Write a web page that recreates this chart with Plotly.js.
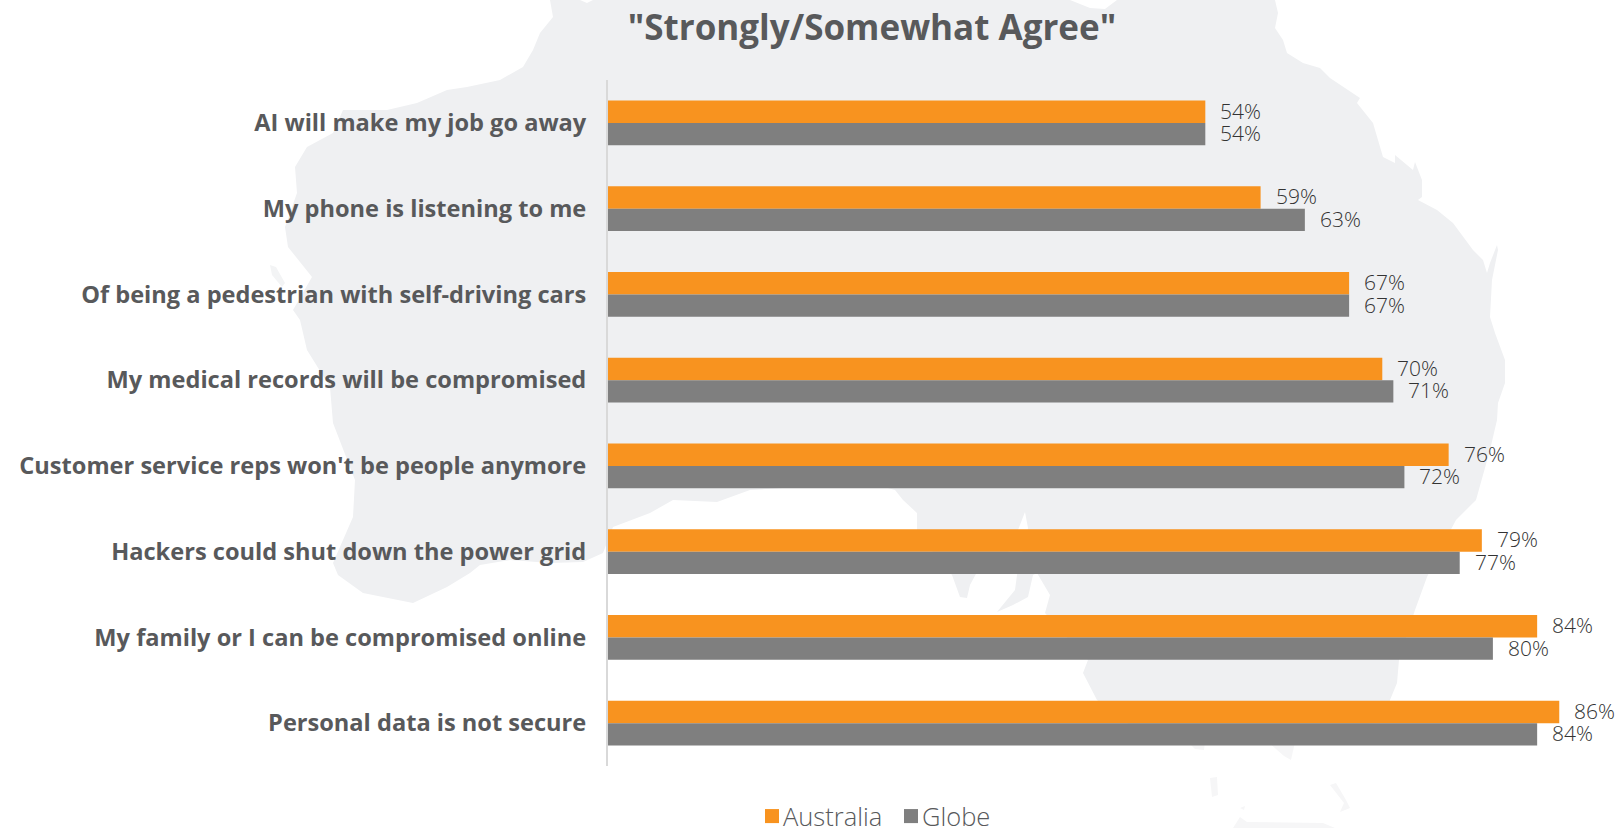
<!DOCTYPE html>
<html>
<head>
<meta charset="utf-8">
<script src="https://cdn.plot.ly/plotly-3.0.1.min.js"></script>
<style>html,body{margin:0;padding:0;background:#fff}#chart{width:1619px;height:828px}</style>
</head>
<body>
<div id="chart"></div>
<script>
const categories = [
  "AI will make my job go away",
  "My phone is listening to me",
  "Of being a pedestrian with self-driving cars",
  "My medical records will be compromised",
  "Customer service reps won't be people anymore",
  "Hackers could shut down the power grid",
  "My family or I can be compromised online",
  "Personal data is not secure"
];
const australia = [54, 59, 67, 70, 76, 79, 84, 86];
const globe = [54, 63, 67, 71, 72, 77, 80, 84];

// Australian mainland outline and islands, in page pixels, for the backdrop.
const mainland = [
  [550,0],[580,0],[587,3],[593,0],[1070,0],[1090,8],[1105,9],[1117,0],[1275,0],
  [1278,13],[1275,28],[1283,40],[1287,53],[1303,63],[1320,68],[1330,78],[1345,88],[1360,98],[1357,103],
  [1373,123],[1383,157],[1395,163],[1395,155],[1413,170],[1415,162],[1422,180],[1422,197],[1418,200],
  [1437,210],[1453,223],[1473,250],[1483,260],[1487,273],[1490,263],[1497,245],[1498,250],[1492,280],
  [1490,317],[1495,333],[1505,360],[1505,383],[1498,403],[1497,420],[1490,450],[1476,500],[1456,520],
  [1440,550],[1427,577],[1415,610],[1399,660],[1397,683],[1390,700],[1385,722],[1310,730],[1240,732],
  [1190,730],[1130,725],[1097,700],[1083,673],[1088,660],
  [1060,630],[1045,613],[1050,595],[1037,573],[1033,575],[1028,597],[1013,605],[997,612],[1015,590],
  [1017,575],[1028,528],[1025,512],[1018,530],[1005,560],[977,572],[970,585],[967,598],[960,597],
  [952,575],[935,555],[917,530],[917,513],[903,500],[895,490],[860,480],[800,487],[750,490],[717,502],
  [673,500],[650,513],[613,527],[603,553],[583,562],[550,563],[510,560],[480,565],[470,573],[447,587],
  [413,603],[363,593],[338,575],[333,563],[353,517],[355,480],[333,423],[330,387],[307,350],[300,320],
  [293,310],[312,277],[288,247],[285,227],[297,193],[295,167],[307,147],[333,133],[343,110],[387,110],
  [417,103],[447,90],[467,87],[500,80],[523,67],[533,50],[540,33],[553,17]
];
const westIsland = [[270,265],[276,267],[285,283],[282,287],[272,275]];
// The southern tip and islands fade out towards the foot of the page.
const southernBits = [
  [[1188,742],[1205,742],[1204,750],[1195,749]],
  [[1268,742],[1295,742],[1291,760],[1284,756]],
  [[1210,778],[1217,777],[1218,795],[1212,797]],
  [[1330,785],[1336,783],[1346,800],[1350,808],[1340,812],[1344,803]],
  [[1233,828],[1240,817],[1247,822],[1323,823],[1335,828]],
  [[1240,808],[1245,806],[1244,810]]
];

const W = 1619, H = 828;
const margin = {l: 608, r: 0, t: 80, b: 62};

function toPath(points) {
  const plotW = W - margin.l - margin.r, plotH = H - margin.t - margin.b;
  return points.map((p, i) => {
    const x = ((p[0] - margin.l) / plotW).toFixed(5);
    const y = ((H - margin.b - p[1]) / plotH).toFixed(5);
    return (i ? 'L' : 'M') + x + ',' + y;
  }).join(' ') + ' Z';
}

function landShape(points, fill) {
  return {
    type: 'path', xref: 'paper', yref: 'paper', layer: 'below',
    path: toPath(points), fillcolor: fill, line: {width: 0}
  };
}

const landShapes = [landShape(mainland, '#eff0f2'), landShape(westIsland, '#f3f4f5')]
  .concat(southernBits.map(points => landShape(points, '#f6f6f7')));

const HEAVY_FONT = '"Open Sans", "Noto Sans", sans-serif';
const TEXT_GREY = '#58595b';

// Percent labels sit a fixed gap to the right of each bar end.
function valueLabels(values, offset) {
  return values.map((v, i) => ({
    x: v, y: i + offset, xref: 'x', yref: 'y',
    text: v + '%', showarrow: false, xanchor: 'left', yanchor: 'middle', xshift: 13, yshift: 1,
    font: {family: HEAVY_FONT, size: 21, weight: 300, color: '#333333'}
  }));
}

const data = [
  {type: 'bar', orientation: 'h', name: 'Australia', y: categories, x: australia,
   marker: {color: '#f8931f'}, hoverinfo: 'y+x'},
  {type: 'bar', orientation: 'h', name: 'Globe', y: categories, x: globe,
   marker: {color: '#7f7f7f'}, hoverinfo: 'y+x'}
];

const layout = {
  width: W, height: H, margin: margin,
  paper_bgcolor: '#ffffff', plot_bgcolor: 'rgba(0,0,0,0)',
  barmode: 'group', bargap: 0.48, bargroupgap: 0,
  title: {
    text: '"Strongly/Somewhat Agree"',
    x: 872 / W, xref: 'container', xanchor: 'center',
    y: 1 - 28 / H, yref: 'container', yanchor: 'middle',
    font: {family: HEAVY_FONT, size: 35, weight: 700, color: TEXT_GREY}
  },
  xaxis: {range: [0, 91.4], visible: false, fixedrange: true},
  yaxis: {
    type: 'category', autorange: 'reversed', fixedrange: true,
    showgrid: false, zeroline: false, showline: true, linecolor: '#d9d9d9', linewidth: 2,
    ticks: 'outside', ticklen: 15, tickcolor: 'rgba(0,0,0,0)',
    tickfont: {family: HEAVY_FONT, size: 23.6, weight: 700, color: TEXT_GREY}
  },
  showlegend: true,
  legend: {
    orientation: 'h', traceorder: 'normal',
    xref: 'container', yref: 'container',
    x: 743 / W, xanchor: 'left',
    y: 1 - 793 / H, yanchor: 'top',
    entrywidth: 94, entrywidthmode: 'pixels',
    bgcolor: 'rgba(0,0,0,0)',
    font: {family: HEAVY_FONT, size: 25.5, weight: 300, color: TEXT_GREY}
  },
  shapes: landShapes,
  annotations: valueLabels(australia, -0.13).concat(valueLabels(globe, 0.13))
};

Plotly.newPlot('chart', data, layout, {displayModeBar: false, staticPlot: true}).then(gd => {
  // Larger legend swatches, tucked closer to their text.
  gd.querySelectorAll('.legend .legendpoints path').forEach(p => {
    p.setAttribute('transform', 'translate(29,0) scale(1.17)');
  });
});
</script>
</body>
</html>
